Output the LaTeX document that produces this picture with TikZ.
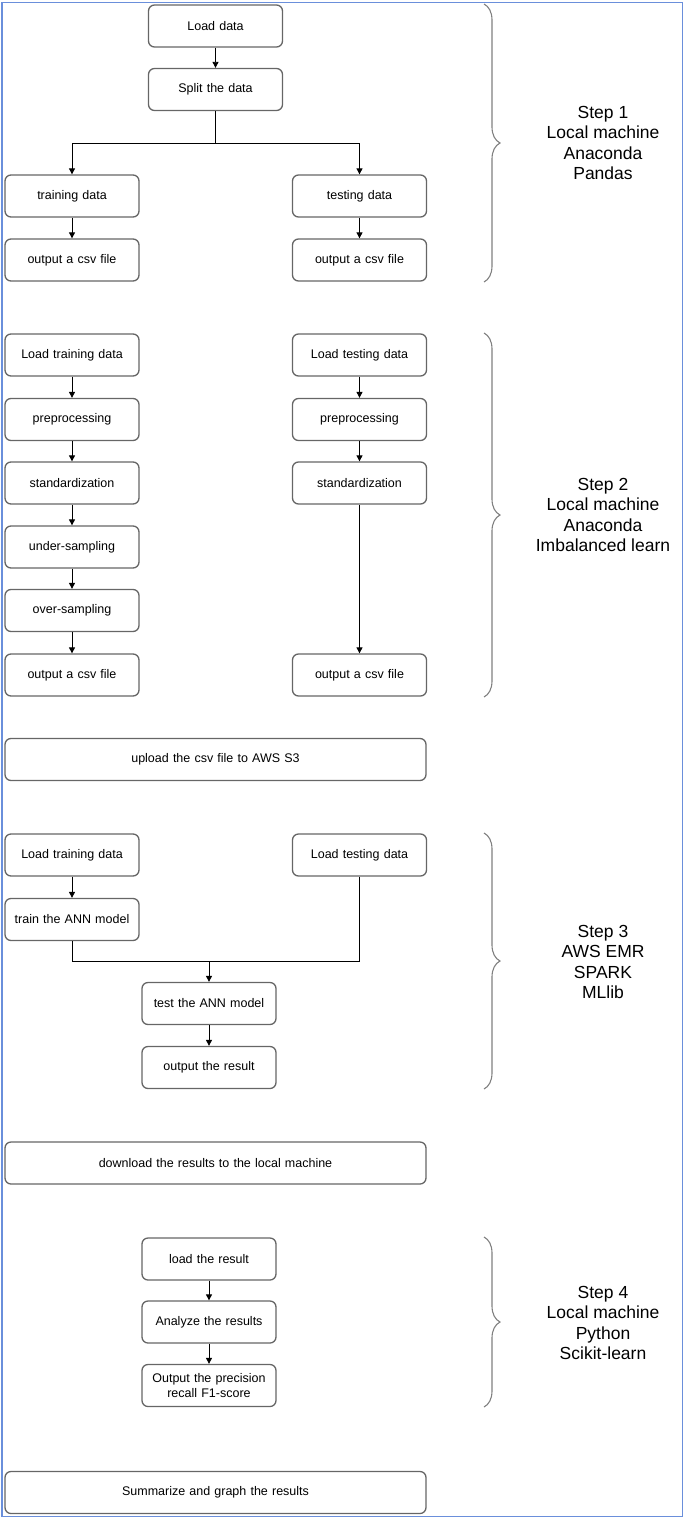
\documentclass[tikz,border=0pt]{standalone}
\usepackage{fontspec}
\setmainfont{Liberation Sans}
\usetikzlibrary{arrows.meta,decorations.pathreplacing}
\definecolor{frameblue}{HTML}{6A8FDB}
\definecolor{boxgray}{HTML}{666666}
\begin{document}
\begin{tikzpicture}[x=1pt,y=-1pt,
  box/.style={draw=boxgray,line width=1.3pt,rounded corners=6pt,minimum height=42pt,
    inner sep=1pt,align=center,font=\fontsize{12.5}{14.5}\selectfont,text=black},
  nbox/.style={box,minimum width=134pt,text width=130pt},
  wbox/.style={box,minimum width=421pt,text width=417pt},
  arr/.style={-{Triangle[length=6pt,width=6pt]},line width=0.9pt,black},
  ln/.style={line width=0.9pt,black},
  brc/.style={decorate,decoration={brace,amplitude=16pt},draw=gray,line width=1.1pt},
  steptxt/.style={align=center,font=\fontsize{17.5}{20.3}\selectfont,text=black}]
\useasboundingbox (0,0) rectangle (685,1520);
\draw[frameblue,line width=1.6pt] (2,2.5) rectangle (682.5,1516.5);

% Step 1
\node[nbox] (load) at (215.5,26) {Load data};
\node[nbox] (split) at (215.5,89.5) {Split the data};
\node[nbox] (train1) at (72,196) {training data};
\node[nbox] (test1) at (359.5,196) {testing data};
\node[nbox] (out1l) at (72,260) {output a csv file};
\node[nbox] (out1r) at (359.5,260) {output a csv file};
\coordinate (br1) at (215.5,143);
\draw[arr] (load) -- (split);
\draw[ln] (split) -- (br1);
\draw[arr] (br1) -| (train1);
\draw[arr] (br1) -| (test1);
\draw[arr] (train1) -- (out1l);
\draw[arr] (test1) -- (out1r);
\coordinate (b1t) at (484,4);
\coordinate (b1b) at (484,282);
\draw[brc] (b1t) -- (b1b);
\node[steptxt] (s1) at (603,143) {Step 1\\Local machine\\Anaconda\\Pandas};

% Step 2
\node[nbox] (ltr2) at (72,355) {Load training data};
\node[nbox] (pre2l) at (72,419.5) {preprocessing};
\node[nbox] (std2l) at (72,483) {standardization};
\node[nbox] (und2) at (72,547) {under-sampling};
\node[nbox] (ovr2) at (72,610.5) {over-sampling};
\node[nbox] (out2l) at (72,675) {output a csv file};
\node[nbox] (lte2) at (359.5,355) {Load testing data};
\node[nbox] (pre2r) at (359.5,419.5) {preprocessing};
\node[nbox] (std2r) at (359.5,483) {standardization};
\node[nbox] (out2r) at (359.5,675) {output a csv file};
\draw[arr] (ltr2) -- (pre2l);
\draw[arr] (pre2l) -- (std2l);
\draw[arr] (std2l) -- (und2);
\draw[arr] (und2) -- (ovr2);
\draw[arr] (ovr2) -- (out2l);
\draw[arr] (lte2) -- (pre2r);
\draw[arr] (pre2r) -- (std2r);
\draw[arr] (std2r) -- (out2r);
\coordinate (b2t) at (484,333);
\coordinate (b2b) at (484,697);
\draw[brc] (b2t) -- (b2b);
\node[steptxt] (s2) at (603,515) {Step 2\\Local machine\\Anaconda\\Imbalanced learn};

\node[wbox] (upload) at (215.5,759.5) {upload the csv file to AWS S3};

% Step 3
\node[nbox] (ltr3) at (72,855) {Load training data};
\node[nbox] (lte3) at (359.5,855) {Load testing data};
\node[nbox] (ann) at (72,919.5) {train the ANN model};
\node[nbox] (tann) at (209,1003.5) {test the ANN model};
\node[nbox] (ores) at (209,1067.5) {output the result};
\coordinate (j3) at (209,961);
\draw[arr] (ltr3) -- (ann);
\draw[ln] (ann) |- (j3);
\draw[ln] (lte3) |- (j3);
\draw[arr] (j3) -- (tann);
\draw[arr] (tann) -- (ores);
\coordinate (b3t) at (484,833);
\coordinate (b3b) at (484,1089);
\draw[brc] (b3t) -- (b3b);
\node[steptxt] (s3) at (603,962) {Step 3\\AWS EMR\\SPARK\\MLlib};

\node[wbox] (download) at (215.5,1163) {download the results to the local machine};

% Step 4
\node[nbox] (lres) at (209,1259) {load the result};
\node[nbox] (anal) at (209,1322) {Analyze the results};
\node[nbox] (oprec) at (209,1385.5) {Output the precision\\recall F1-score};
\draw[arr] (lres) -- (anal);
\draw[arr] (anal) -- (oprec);
\coordinate (b4t) at (484,1237);
\coordinate (b4b) at (484,1407);
\draw[brc] (b4t) -- (b4b);
\node[steptxt] (s4) at (603,1323) {Step 4\\Local machine\\Python\\Scikit-learn};

\node[wbox] (summ) at (215.5,1492.5) {Summarize and graph the results};
\end{tikzpicture}
\end{document}
